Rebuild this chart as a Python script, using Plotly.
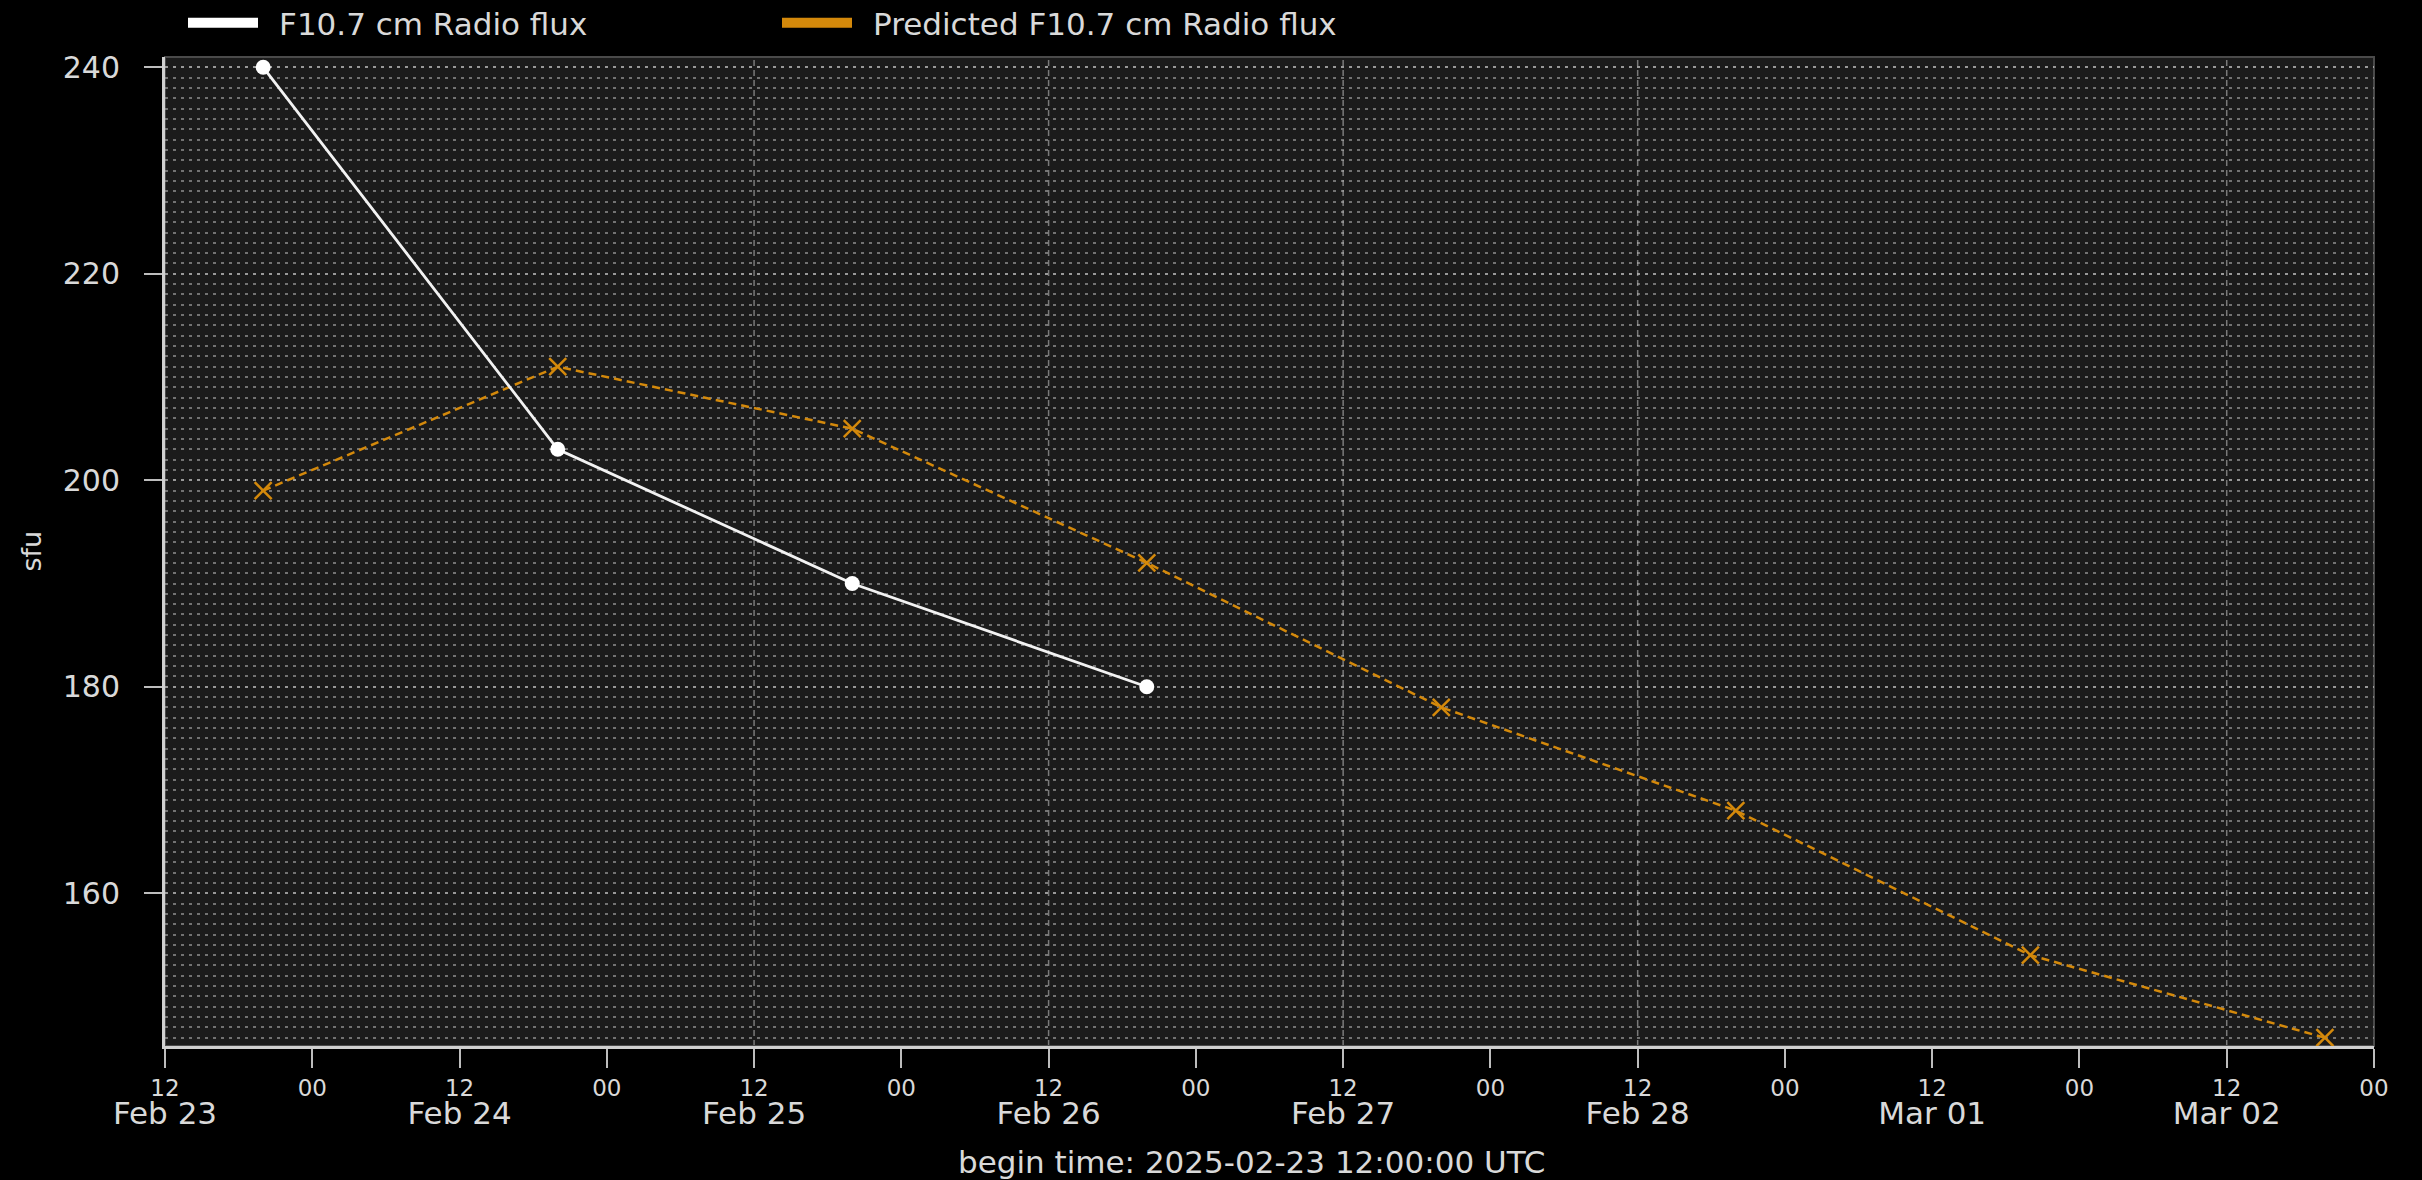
import plotly.graph_objects as go

# ---- data ----
obs_times = ["2025-02-23 20:00", "2025-02-24 20:00", "2025-02-25 20:00", "2025-02-26 20:00"]
obs_flux = [240, 203, 190, 180]

pred_times = ["2025-02-23 20:00", "2025-02-24 20:00", "2025-02-25 20:00", "2025-02-26 20:00",
              "2025-02-27 20:00", "2025-02-28 20:00", "2025-03-01 20:00", "2025-03-02 20:00"]
pred_flux = [199, 211, 205, 192, 178, 168, 154, 146]

tick_times = ["2025-02-23 12:00", "2025-02-24 00:00", "2025-02-24 12:00", "2025-02-25 00:00",
              "2025-02-25 12:00", "2025-02-26 00:00", "2025-02-26 12:00", "2025-02-27 00:00",
              "2025-02-27 12:00", "2025-02-28 00:00", "2025-02-28 12:00", "2025-03-01 00:00",
              "2025-03-01 12:00", "2025-03-02 00:00", "2025-03-02 12:00", "2025-03-03 00:00"]
tick_hours = ["12", "00", "12", "00", "12", "00", "12", "00",
              "12", "00", "12", "00", "12", "00", "12", "00"]
date_times = ["2025-02-23 12:00", "2025-02-24 12:00", "2025-02-25 12:00", "2025-02-26 12:00",
              "2025-02-27 12:00", "2025-02-28 12:00", "2025-03-01 12:00", "2025-03-02 12:00"]
date_labels = ["Feb 23", "Feb 24", "Feb 25", "Feb 26", "Feb 27", "Feb 28", "Mar 01", "Mar 02"]
vgrid_times = ["2025-02-25 12:00", "2025-02-26 12:00", "2025-02-27 12:00",
               "2025-02-28 12:00", "2025-03-02 12:00"]

x_range = ["2025-02-23 12:00", "2025-03-03 00:00"]
y_range = [145.2, 241.0]
y_ticks = [160, 180, 200, 220, 240]

obs_name = "F10.7 cm Radio flux"
pred_name = "Predicted F10.7 cm Radio flux"
title_text = "begin time: 2025-02-23 12:00:00 UTC"
y_label = "sfu"

# ---- style ----
W, H = 2422, 1180
ML, MR, MT, MB = 165, 48, 57, 134
PW, PH = W - ML - MR, H - MT - MB
ORANGE = "#d4890b"
TXT = "#d9d9d9"
FONT = "DejaVu Sans"
PAD = "\u00a0\u2009"

fig = go.Figure()

fig.add_trace(go.Scatter(
    x=pred_times, y=pred_flux, mode="lines+markers", showlegend=False,
    line=dict(color=ORANGE, width=2.5, dash="8px,5px"),
    marker=dict(symbol="x-thin", size=17, line=dict(color=ORANGE, width=2.5), color=ORANGE),
))
fig.add_trace(go.Scatter(
    x=obs_times, y=obs_flux, mode="lines+markers", showlegend=False,
    line=dict(color="#f2f2f2", width=2.8),
    marker=dict(symbol="circle", size=15, color="#ffffff"),
))
# legend entries (placed on the overlay date axis so that it gets drawn)
fig.add_trace(go.Scatter(x=[None], y=[None], mode="lines", name=PAD + obs_name,
                         xaxis="x2", hoverinfo="skip",
                         line=dict(color="#ffffff", width=10)))
fig.add_trace(go.Scatter(x=[None], y=[None], mode="lines", name=PAD + pred_name,
                         xaxis="x2", hoverinfo="skip",
                         line=dict(color=ORANGE, width=10)))

for t in vgrid_times:
    fig.add_shape(type="line", xref="x", yref="paper", x0=t, x1=t, y0=0, y1=1,
                  line=dict(color="rgba(200,200,200,0.55)", width=1.5, dash="6px,4px"),
                  layer="below")

# faint border top/right
fig.add_shape(type="rect", xref="paper", yref="paper", x0=0, x1=1, y0=0, y1=1,
              line=dict(color="#4a4a4a", width=2), layer="below")

fig.add_annotation(text=title_text, xref="paper", yref="paper",
                   x=(1251 - ML) / PW, y=-(1162 - (H - MB)) / PH,
                   xanchor="center", yanchor="middle", showarrow=False,
                   font=dict(family=FONT, size=31, color=TXT))
fig.add_annotation(text=y_label, xref="paper", yref="paper",
                   x=(31 - ML) / PW, y=0.5, textangle=-90,
                   xanchor="center", yanchor="middle", showarrow=False,
                   font=dict(family=FONT, size=27, color=TXT))

fig.update_layout(
    width=W, height=H,
    margin=dict(l=ML, r=MR, t=MT, b=MB, pad=0, autoexpand=False),
    paper_bgcolor="#000000", plot_bgcolor="#1b1b1b",
    font=dict(family=FONT, color=TXT),
    showlegend=True,
    legend=dict(orientation="h", xref="container", yref="container",
                x=183 / W, y=1 - 23 / H, xanchor="left", yanchor="middle",
                font=dict(family=FONT, size=31, color=TXT),
                itemwidth=70, entrywidth=509, entrywidthmode="pixels",
                bgcolor="rgba(0,0,0,0)", tracegroupgap=0),
    xaxis=dict(type="date", range=x_range, tickmode="array", tickvals=tick_times,
               ticktext=tick_hours, showgrid=False, zeroline=False,
               showline=True, linecolor="#d0d0d0", linewidth=3,
               ticks="outside", ticklen=19, tickwidth=2, tickcolor="#bdbdbd",
               tickfont=dict(family=FONT, size=23, color=TXT), tickangle=0),
    xaxis2=dict(type="date", range=x_range, overlaying="x", side="bottom", anchor="y",
                tickmode="array", tickvals=date_times, ticktext=date_labels,
                showgrid=False, zeroline=False, showline=False, ticks="",
                ticklabelstandoff=46,
                tickfont=dict(family=FONT, size=31, color=TXT), tickangle=0),
    yaxis=dict(range=y_range, tickmode="array", tickvals=y_ticks, zeroline=False,
               showline=True, linecolor="#d0d0d0", linewidth=3,
               ticks="outside", ticklen=18, tickwidth=2, tickcolor="#bdbdbd",
               ticklabelstandoff=18,
               tickfont=dict(family=FONT, size=30, color=TXT),
               showgrid=True, gridcolor="rgba(185,185,185,0.55)", gridwidth=1.5,
               griddash="3px,5px",
               minor=dict(dtick=1, tick0=0, showgrid=True, ticks="",
                          gridcolor="rgba(185,185,185,0.55)", gridwidth=1.5,
                          griddash="3px,5px")),
)

fig.write_html("out.html", config={"displayModeBar": False},
               post_script="document.body.style.margin='0';"
                           "document.body.style.background='#000';")
